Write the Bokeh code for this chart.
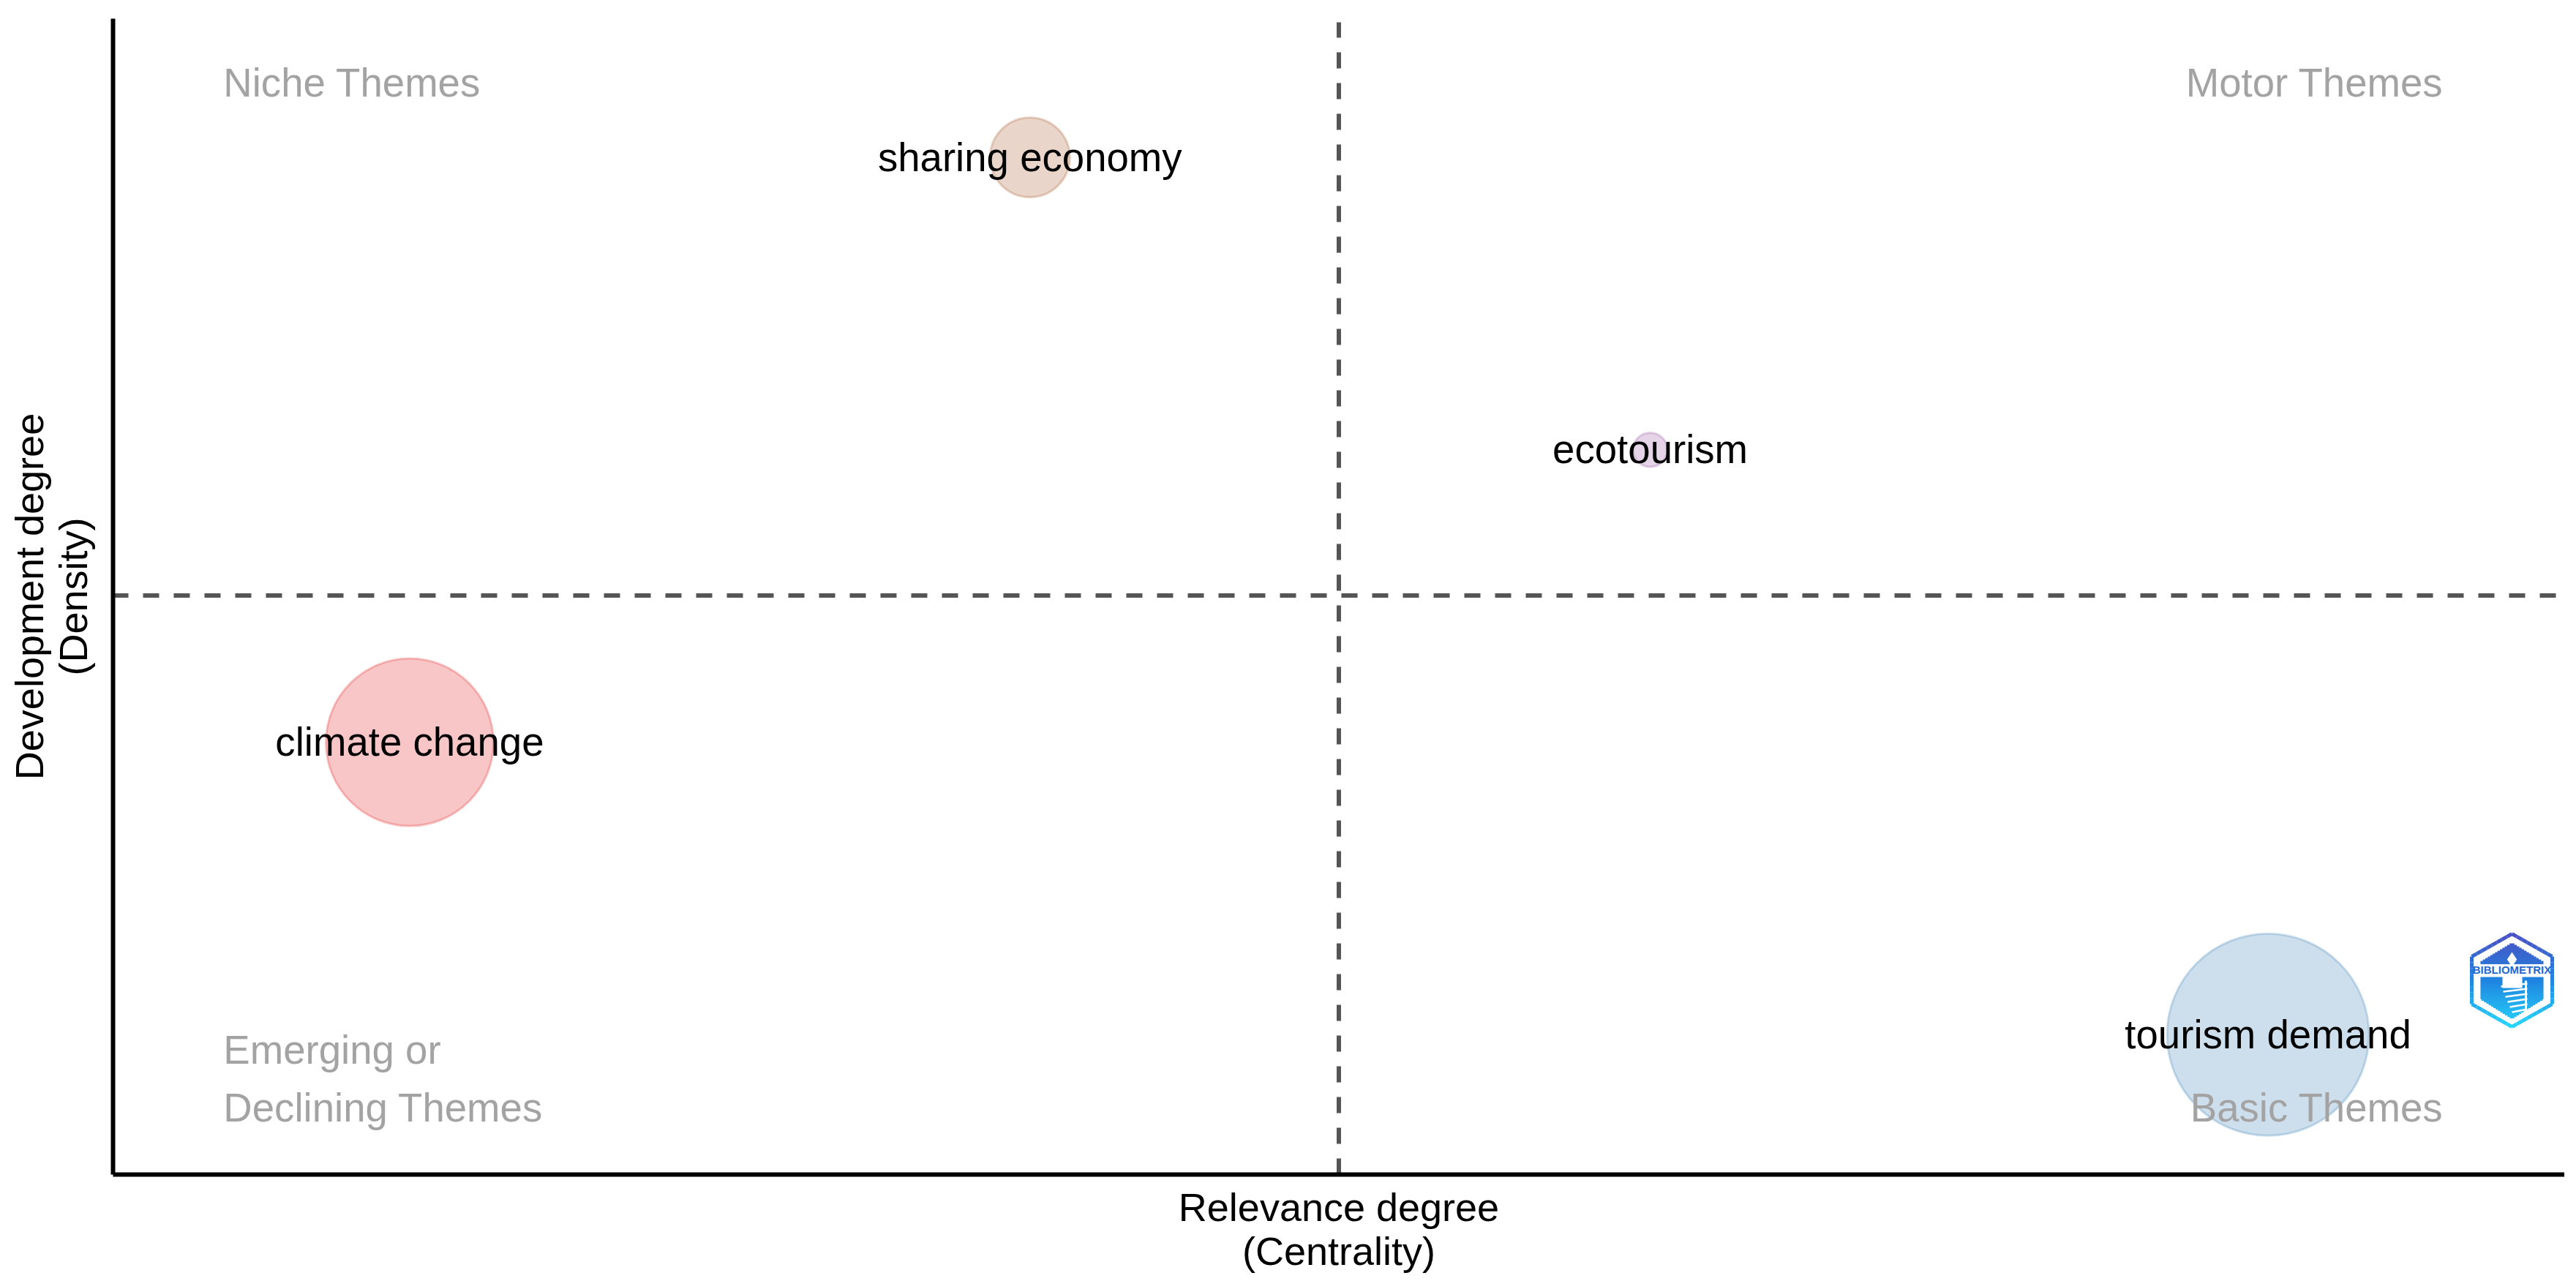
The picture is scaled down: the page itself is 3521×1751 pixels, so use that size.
from bokeh.plotting import figure
from bokeh.models import Range1d
from bokeh.embed import file_html
from bokeh.resources import INLINE
from bokeh.core.properties import value
import math

# ---- data (quadrant map, both axes on a 0-100 scale) ----
themes = ["climate change", "tourism demand", "ecotourism", "sharing economy"]
centrality = [12.1, 87.9, 62.7, 37.4]
density = [37.4, 12.1, 62.7, 88.0]
frequency = [68.8, 100.0, 2.9, 15.6]
fill_colors = ["#E41A1C", "#377EB8", "#984EA3", "#A65628"]

quadrants = ["Niche Themes", "Motor Themes", "Emerging or", "Declining Themes", "Basic Themes"]
quadrant_x = [4.5, 95.05, 4.5, 4.5, 95.05]
quadrant_y = [94.43, 94.43, 10.73, 5.73, 5.73]
quadrant_align = ["left", "right", "left", "left", "right"]

x_mid = 50.0
y_mid = 50.1

FRAME_L, FRAME_T, FRAME_W, FRAME_H = 154, 25, 3351, 1580
FONT = "Liberation Sans"
FS = "54.6px"
FIG_H = 1740


def X(px):
    return (px - FRAME_L) / FRAME_W * 100


def Y(py):
    return (FRAME_T + FRAME_H - py) / FRAME_H * 100


p = figure(width=3505, height=FIG_H, output_backend="svg", toolbar_location=None,
           x_range=Range1d(0, 100), y_range=Range1d(0, 100),
           min_border_left=FRAME_L, min_border_right=0,
           min_border_top=FRAME_T, min_border_bottom=FIG_H - FRAME_T - FRAME_H,
           background_fill_color="white", border_fill_color="white",
           x_axis_label="Relevance degree\n(Centrality)",
           y_axis_label="Development degree\n(Density)")
p.frame_width = FRAME_W
p.frame_height = FRAME_H
p.grid.visible = False
p.outline_line_color = None
for ax in (p.xaxis[0], p.yaxis[0]):
    ax.major_tick_line_color = None
    ax.minor_tick_line_color = None
    ax.major_label_text_font_size = "0px"
    ax.major_label_text_color = None
    ax.axis_line_color = "black"
    ax.axis_line_width = 6
    ax.axis_label_text_font = FONT
    ax.axis_label_text_font_size = "54px"
    ax.axis_label_text_font_style = "normal"
    ax.axis_label_text_color = "black"
    ax.axis_label_text_line_height = 1.0
p.xaxis[0].axis_label_standoff = 8
p.yaxis[0].axis_label_standoff = 19

p.segment([x_mid], [0], [x_mid], [Y(30)], line_color="#555555", line_width=6, line_dash="22 20")
p.segment([X(153)], [y_mid], [X(3493)], [y_mid], line_color="#555555", line_width=6, line_dash="22 20")

sizes = [27.6 * math.sqrt(f) for f in frequency]
p.scatter(centrality, density, size=sizes, marker="circle", fill_color=fill_colors, fill_alpha=0.25,
          line_color=fill_colors, line_alpha=0.25, line_width=3)

p.text(centrality, density, text=themes, text_font=value(FONT), text_font_size=value(FS),
       text_color="black", text_align="center", text_baseline="middle")
p.text(quadrant_x, quadrant_y, text=quadrants, text_font=value(FONT), text_font_size=value(FS),
       text_color="#A3A3A3", text_align=quadrant_align, text_baseline="middle")


# ---- small hexagonal badge at the right of the map (decoration, not data) ----
STOPS = [(0x4A, 0x50, 0xC4), (0x1F, 0x85, 0xE0), (0x26, 0xD6, 0xFC)]


def grad(t):
    t = max(0.0, min(1.0, t))
    c0, c1, u = (STOPS[0], STOPS[1], t * 2) if t < 0.5 else (STOPS[1], STOPS[2], t * 2 - 1)
    return "#%02x%02x%02x" % tuple(round(a + (b - a) * u) for a, b in zip(c0, c1))


top, bot, cx, half = 1276, 1403, 3433, 55
sh = 31  # height of the sloped hexagon shoulder

verts = [(cx, top), (cx + half, top + sh), (cx + half, bot - sh), (cx, bot),
         (cx - half, bot - sh), (cx - half, top + sh), (cx, top)]
sx0, sy0, sx1, sy1, sc = [], [], [], [], []
for (ax_, ay_), (bx_, by_) in zip(verts[:-1], verts[1:]):
    for i in range(8):
        a, b = i / 8, (i + 1) / 8
        y0, y1 = ay_ + (by_ - ay_) * a, ay_ + (by_ - ay_) * b
        sx0.append(X(ax_ + (bx_ - ax_) * a))
        sx1.append(X(ax_ + (bx_ - ax_) * b))
        sy0.append(Y(y0))
        sy1.append(Y(y1))
        sc.append(grad(((y0 + y1) / 2 - top) / (bot - top)))
p.segment(sx0, sy0, sx1, sy1, line_color=sc, line_width=5)

# roof and lower block, drawn as gradient rows
ql, qr, qt, qb, qc = [], [], [], [], []
for py in range(1289, 1316, 2):
    hw = 43 * (py + 2 - 1289) / 26
    ql.append(X(cx - min(hw, 43))); qr.append(X(cx + min(hw, 43)))
    qt.append(Y(py)); qb.append(Y(py + 2.5))
    qc.append(grad((py - top) / (bot - top)))
for py in range(1335, 1391, 2):
    hw = 43 if py < 1364 else 43 * (1391 - py) / 27
    ql.append(X(cx - hw)); qr.append(X(cx + hw))
    qt.append(Y(py)); qb.append(Y(py + 2.5))
    qc.append(grad((py - top) / (bot - top)))
p.quad(left=ql, right=qr, top=qt, bottom=qb, fill_color=qc, line_color=None)

# white tower with stripes
p.scatter([X(3433)], [Y(1311)], marker="diamond", size=20, fill_color="white", line_color=None)
p.quad(left=[X(3420)], right=[X(3447)], top=[Y(1333)], bottom=[Y(1350)],
       fill_color="white", line_color=None)
stripe_y = [1346, 1353, 1360, 1367, 1374, 1381]
p.segment([X(3418 + 3 * i) for i in range(6)], [Y(y + 2) for y in stripe_y],
          [X(3454) for _ in stripe_y], [Y(y - 2) for y in stripe_y], line_color="white", line_width=2.5)
p.segment([X(3452)], [Y(1340)], [X(3452)], [Y(1385)], line_color="white", line_width=3)

p.text([X(cx)], [Y(1325)], text=["BIBLIOMETRIX"], text_font=value(FONT), text_font_size=value("15px"),
       text_font_style="bold", text_color="#2467d0", text_align="center", text_baseline="middle")

open("out.html", "w").write(file_html(p, INLINE))
